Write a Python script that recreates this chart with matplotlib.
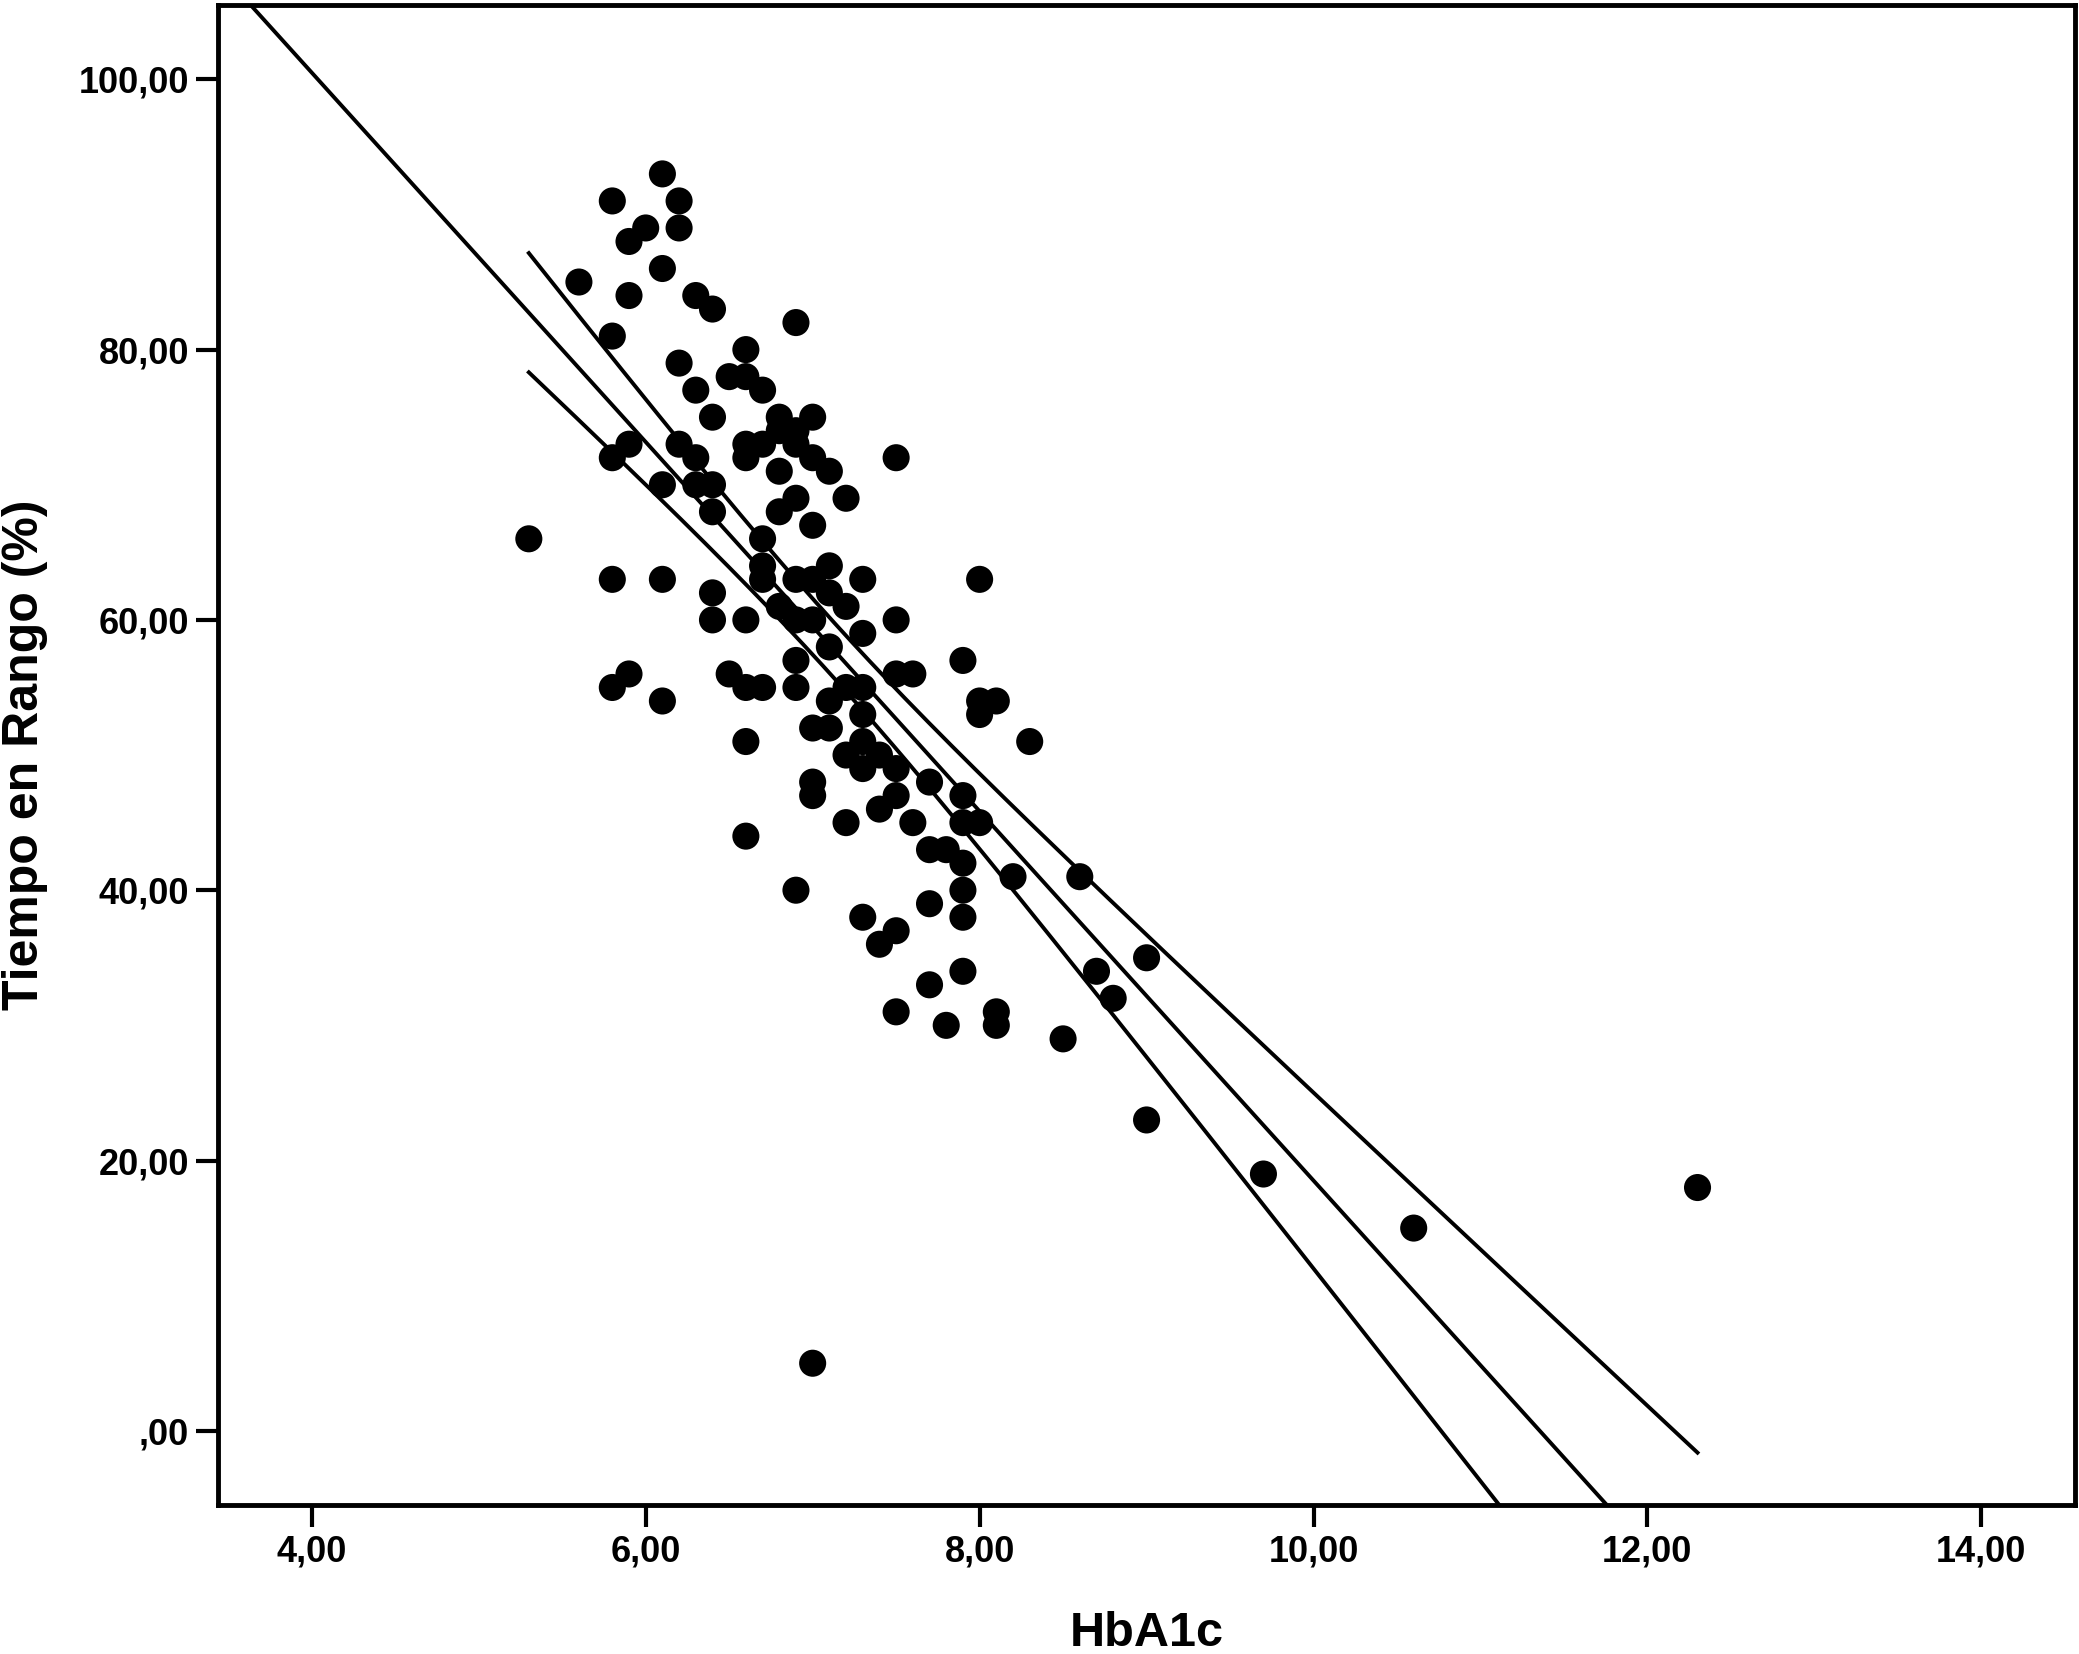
import numpy as np
import matplotlib.pyplot as plt

# HbA1c (%) vs time in range (%)
hba1c = [5.3, 5.6,
         5.8, 5.8, 5.8, 5.8, 5.8,
         5.9, 5.9, 5.9, 5.9,
         6.0,
         6.1, 6.1, 6.1, 6.1, 6.1,
         6.2, 6.2, 6.2, 6.2,
         6.3, 6.3, 6.3, 6.3,
         6.4, 6.4, 6.4, 6.4, 6.4, 6.4,
         6.5, 6.5,
         6.6, 6.6, 6.6, 6.6, 6.6, 6.6, 6.6, 6.6,
         6.7, 6.7, 6.7, 6.7, 6.7, 6.7,
         6.8, 6.8, 6.8, 6.8, 6.8,
         6.9, 6.9, 6.9, 6.9, 6.9, 6.9, 6.9, 6.9, 6.9,
         7.0, 7.0, 7.0, 7.0, 7.0, 7.0, 7.0, 7.0, 7.0,
         7.1, 7.1, 7.1, 7.1, 7.1, 7.1,
         7.2, 7.2, 7.2, 7.2, 7.2,
         7.3, 7.3, 7.3, 7.3, 7.3, 7.3, 7.3,
         7.4, 7.4, 7.4,
         7.5, 7.5, 7.5, 7.5, 7.5, 7.5, 7.5,
         7.6, 7.6,
         7.7, 7.7, 7.7, 7.7,
         7.8, 7.8,
         7.9, 7.9, 7.9, 7.9, 7.9, 7.9, 7.9,
         8.0, 8.0, 8.0, 8.0,
         8.1, 8.1, 8.1,
         8.2, 8.3, 8.5, 8.6, 8.7, 8.8,
         9.0, 9.0,
         9.7, 10.6, 12.3]
tir = [66, 85,
       91, 81, 72, 63, 55,
       88, 84, 73, 56,
       89,
       93, 86, 70, 63, 54,
       91, 89, 79, 73,
       84, 77, 72, 70,
       83, 75, 70, 68, 62, 60,
       78, 56,
       80, 78, 73, 72, 60, 55, 51, 44,
       77, 73, 66, 64, 63, 55,
       75, 74, 71, 68, 61,
       82, 74, 73, 69, 63, 60, 57, 55, 40,
       75, 72, 67, 63, 60, 52, 48, 47, 5,
       71, 64, 62, 58, 54, 52,
       69, 61, 55, 50, 45,
       63, 59, 55, 53, 51, 49, 38,
       50, 46, 36,
       72, 60, 56, 49, 47, 37, 31,
       56, 45,
       48, 43, 39, 33,
       43, 30,
       57, 47, 45, 42, 40, 38, 34,
       63, 54, 53, 45,
       54, 31, 30,
       41, 51, 29, 41, 34, 32,
       35, 23,
       19, 15, 18]

x_ticks = [4, 6, 8, 10, 12, 14]
x_labels = ["4,00", "6,00", "8,00", "10,00", "12,00", "14,00"]
y_ticks = [0, 20, 40, 60, 80, 100]
y_labels = [",00", "20,00", "40,00", "60,00", "80,00", "100,00"]

x = np.array(hba1c, dtype=float)
y = np.array(tir, dtype=float)

# linear fit + 95% CI of the mean (like SPSS "fit line at total")
n = len(x)
b1, b0 = np.polyfit(x, y, 1)
resid = y - (b0 + b1 * x)
s = np.sqrt(np.sum(resid ** 2) / (n - 2))
sxx = np.sum((x - x.mean()) ** 2)
t_crit = 1.978

plt.rcParams['font.family'] = ['Liberation Sans', 'DejaVu Sans']

fig = plt.figure(figsize=(20.79, 16.54), dpi=100)
ax = fig.add_axes([0.105, 0.09, 0.893, 0.907])

xmin, xmax = 3.44, 14.56
ax.set_xlim(xmin, xmax)
ax.set_ylim(-5.5, 105.5)

xl = np.linspace(xmin, xmax, 200)
ax.plot(xl, b0 + b1 * xl, color='black', lw=2.8)

xb = np.linspace(x.min(), x.max(), 200)
half = t_crit * s * np.sqrt(1.0 / n + (xb - x.mean()) ** 2 / sxx)
ax.plot(xb, b0 + b1 * xb + half, color='black', lw=2.8)
ax.plot(xb, b0 + b1 * xb - half, color='black', lw=2.8)

ax.scatter(x, y, s=380, color='black', edgecolors='none', zorder=3)

ax.set_xticks(x_ticks)
ax.set_xticklabels(x_labels, fontweight='bold')
ax.set_yticks(y_ticks)
ax.set_yticklabels(y_labels, fontweight='bold')
ax.tick_params(direction='out', length=16, width=3, labelsize=26, pad=5)

for sp in ax.spines.values():
    sp.set_linewidth(3.5)

ax.set_xlabel("HbA1c", fontsize=35, fontweight='bold', labelpad=30)
ax.set_ylabel("Tiempo en Rango (%)", fontsize=36, fontweight='bold', labelpad=22)

fig.savefig("out.png", dpi=100)
